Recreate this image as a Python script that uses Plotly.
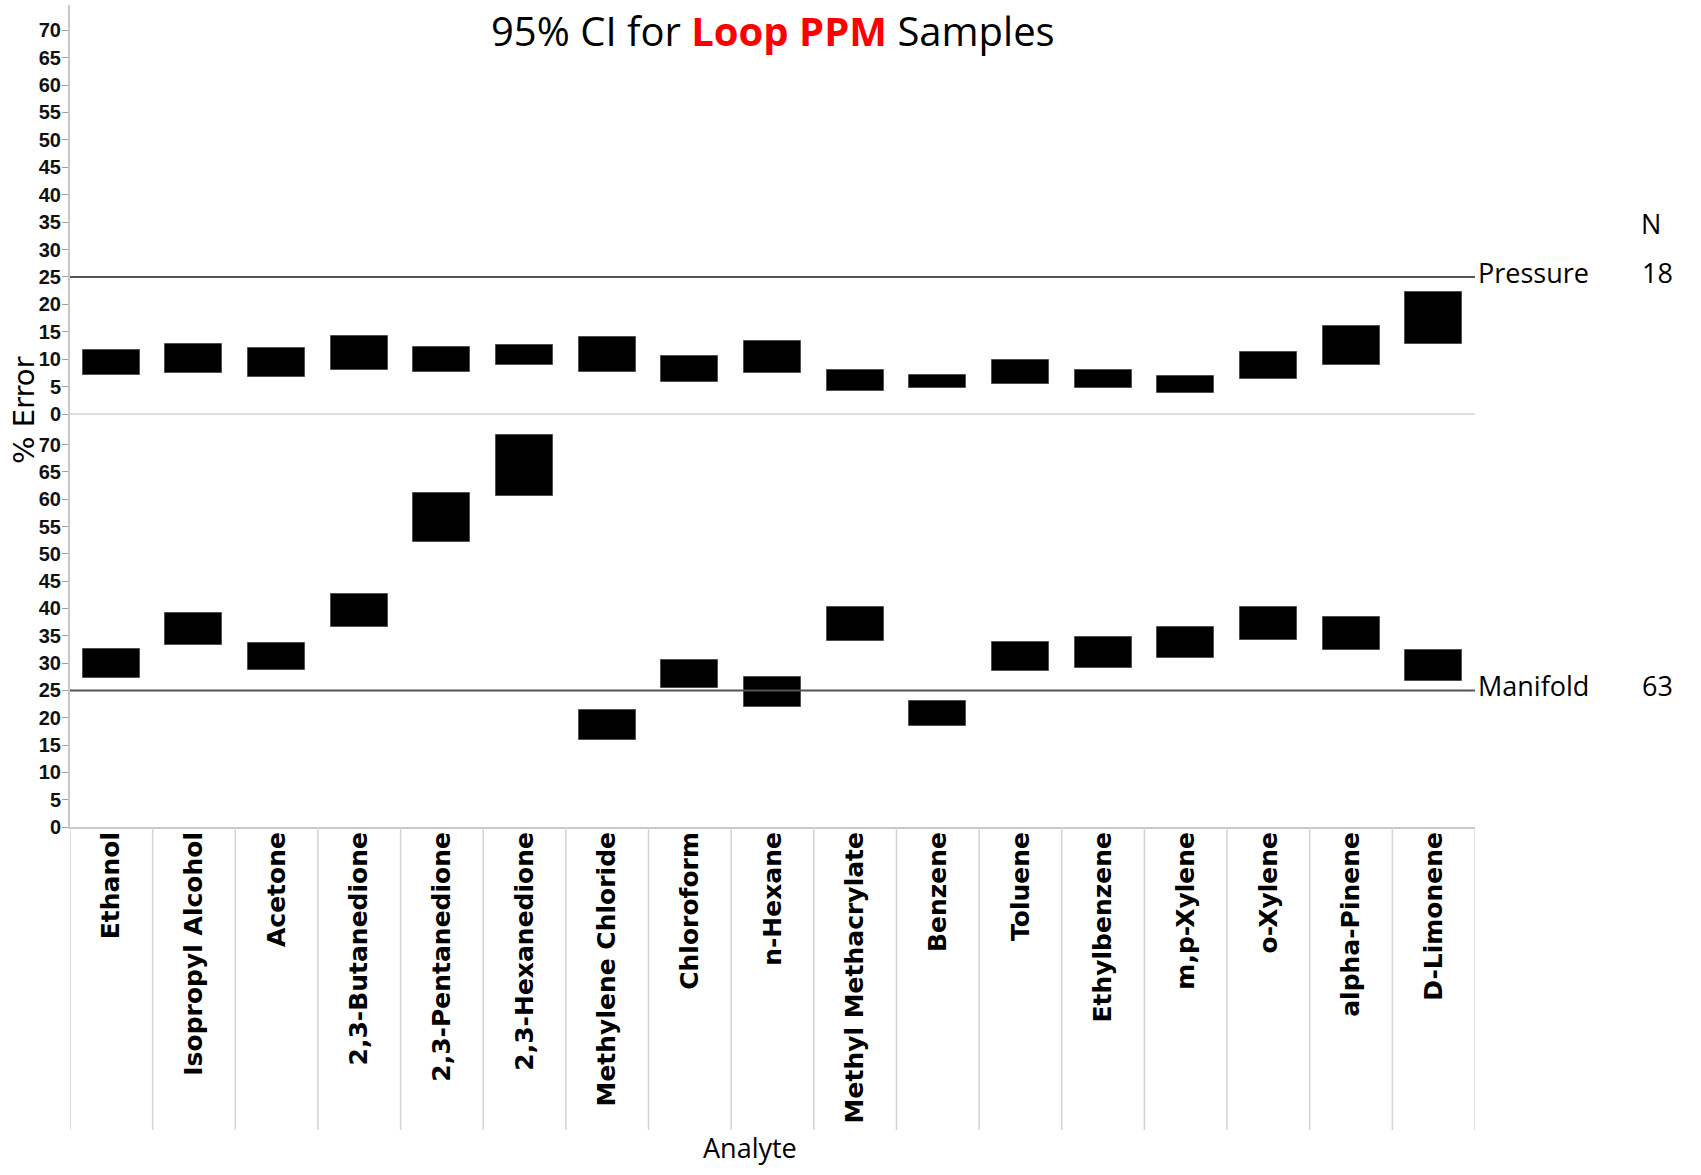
import plotly.graph_objects as go

# Analytes along the x axis
categories = [
    "Ethanol", "Isopropyl Alcohol", "Acetone", "2,3-Butanedione",
    "2,3-Pentanedione", "2,3-Hexanedione", "Methylene Chloride", "Chloroform",
    "n-Hexane", "Methyl Methacrylate", "Benzene", "Toluene", "Ethylbenzene",
    "m,p-Xylene", "o-Xylene", "alpha-Pinene", "D-Limonene",
]

# 95% confidence interval of % error, Pressure method (N = 18)
pressure_lower = [7.1, 7.4, 6.8, 8.0, 7.7, 8.9, 7.7, 5.8, 7.4, 4.2, 4.7, 5.4, 4.8, 3.8, 6.3, 8.9, 12.7]
pressure_upper = [11.6, 12.8, 12.1, 14.2, 12.2, 12.6, 14.0, 10.6, 13.3, 8.0, 7.1, 9.8, 8.0, 7.0, 11.4, 16.1, 22.3]

# 95% confidence interval of % error, Manifold method (N = 63)
manifold_lower = [27.2, 33.4, 28.7, 36.6, 52.2, 60.6, 16.0, 25.5, 21.9, 34.0, 18.4, 28.6, 29.1, 31.0, 34.2, 32.4, 26.7]
manifold_upper = [32.6, 39.1, 33.7, 42.7, 61.1, 71.7, 21.5, 30.6, 27.5, 40.3, 23.1, 33.8, 34.7, 36.6, 40.2, 38.4, 32.4]

groups = ["Pressure", "Manifold"]
group_n = [18, 63]
reference_error = 25
y_ticks = list(range(0, 75, 5))

W, H = 1701, 1175
M_L, M_R, M_T, M_B = 70, 226, 5, 348
plot_w = W - M_L - M_R
plot_h = H - M_T - M_B
split = 414  # pixel row where the two panels meet
split_frac = (H - M_B - split) / plot_h

AXIS_GREY = "#c8c8c8"
LINE_GREY = "#555555"
CAL_FONT = "Open Sans"

fig = go.Figure()

for lo, hi, yaxis in [(pressure_lower, pressure_upper, "y"),
                      (manifold_lower, manifold_upper, "y2")]:
    fig.add_trace(go.Bar(
        x=categories,
        base=lo,
        y=[h - l for l, h in zip(lo, hi)],
        width=0.69,
        marker=dict(color="black", line=dict(color="#505050", width=1)),
        xaxis="x", yaxis=yaxis,
        showlegend=False,
        hoverinfo="skip",
    ))

yaxis_common = dict(
    tickmode="array", tickvals=y_ticks, ticktext=[str(v) for v in y_ticks],
    ticks="outside", ticklen=6, tickwidth=1, tickcolor="#a0a0a0",
    ticklabelstandoff=-3,
    tickfont=dict(family="Liberation Sans", size=20, color="#111", weight="bold"),
    showline=True, linecolor=AXIS_GREY, linewidth=2,
    showgrid=False, zeroline=False, fixedrange=True,
)

fig.update_layout(
    width=W, height=H,
    margin=dict(l=M_L, r=M_R, t=M_T, b=M_B, pad=0),
    paper_bgcolor="white", plot_bgcolor="white",
    bargap=0,
    xaxis=dict(
        anchor="y2", domain=[0, 1],
        range=[-0.5, len(categories) - 0.5],
        tickangle=-90, ticks="", ticklabelstandoff=-7,
        tickfont=dict(family="DejaVu Sans", size=25, color="black", weight="bold"),
        showline=True, linecolor=AXIS_GREY, linewidth=2,
        showgrid=False, zeroline=False,
    ),
    yaxis=dict(domain=[split_frac, 1], range=[0, 74.6], **yaxis_common),
    yaxis2=dict(domain=[0, split_frac], range=[0, 75.6], **yaxis_common),
)

# panel divider
fig.add_shape(type="line", xref="paper", yref="paper", x0=0, x1=1,
              y0=split_frac, y1=split_frac, line=dict(color="#e0e0e0", width=2))

# category separators running down through the label band
sep_bottom = -(1130 - (H - M_B)) / plot_h
for i in range(len(categories) + 1):
    fig.add_shape(type="line", xref="x", yref="paper",
                  x0=i - 0.5, x1=i - 0.5, y0=0, y1=sep_bottom,
                  line=dict(color="#d4d4d4", width=1.5))

# 25 % reference line in each panel, labelled with group and N
for yref, name, n, shift in [("y", groups[0], group_n[0], 4), ("y2", groups[1], group_n[1], 5)]:
    fig.add_shape(type="line", xref="paper", yref=yref, x0=0, x1=1,
                  y0=reference_error, y1=reference_error,
                  line=dict(color=LINE_GREY, width=2))
    fig.add_annotation(text=name, xref="paper", yref=yref, x=1, y=reference_error,
                       xanchor="left", yanchor="middle", xshift=1, yshift=shift,
                       showarrow=False, font=dict(family=CAL_FONT, size=27, color="black"))
    fig.add_annotation(text=str(n), xref="paper", yref=yref,
                       x=(1675 - M_L) / plot_w, y=reference_error,
                       xanchor="right", yanchor="middle", yshift=shift,
                       showarrow=False, font=dict(family=CAL_FONT, size=27, color="black"))

fig.add_annotation(text="N", xref="paper", yref="paper",
                   x=(1651 - M_L) / plot_w, y=(H - M_B - 224) / plot_h,
                   xanchor="center", yanchor="middle", showarrow=False,
                   font=dict(family=CAL_FONT, size=27, color="black"))

# title
fig.add_annotation(
    text='95% CI for <b><span style="color:#ff0000">Loop PPM</span></b> Samples',
    xref="paper", yref="paper", x=0.5, y=(H - M_B - 30) / plot_h,
    xanchor="center", yanchor="middle", showarrow=False, borderpad=0,
    font=dict(family=CAL_FONT, size=40, color="black"),
)

# axis titles
fig.add_annotation(text="Analyte", xref="paper", yref="paper",
                   x=(750 - M_L) / plot_w, y=-(1147 - (H - M_B)) / plot_h,
                   xanchor="center", yanchor="middle", showarrow=False,
                   font=dict(family=CAL_FONT, size=27, color="black"))
fig.add_annotation(text="% Error", xref="paper", yref="paper",
                   x=(24 - M_L) / plot_w, y=(H - M_B - 410) / plot_h,
                   xanchor="center", yanchor="middle", textangle=-90, showarrow=False,
                   font=dict(family="DejaVu Sans", size=29, color="black"))

fig.write_html("out.html")
